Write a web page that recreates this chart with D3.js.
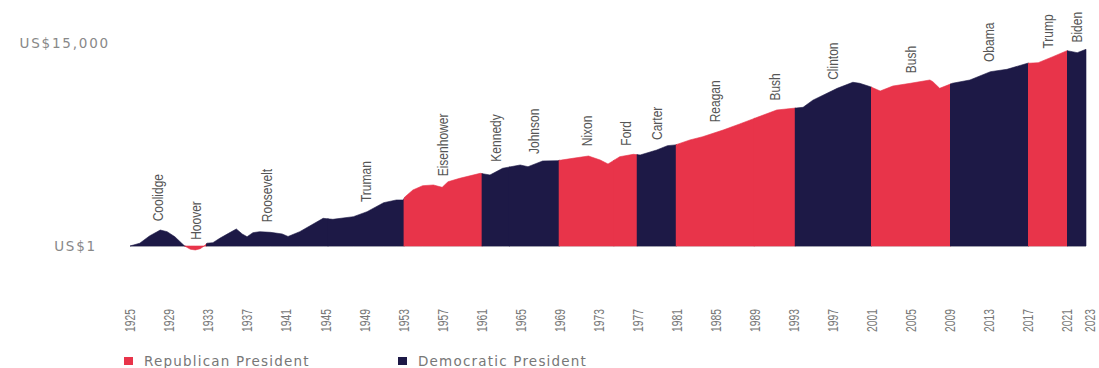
<!DOCTYPE html>
<html>
<head>
<meta charset="utf-8">
<script src="https://cdn.jsdelivr.net/npm/d3@7"></script>
<style>
  body { margin: 0; background: #fff; }
  svg { display: block; }
</style>
</head>
<body>
<svg id="chart" width="1099" height="368"></svg>
<script>
// growth of US$1 (log scale)
const years = [1925.0, 1926.0, 1927.0, 1928.1, 1928.8, 1929.6, 1930.3, 1930.6, 1931.2, 1931.7,
  1932.2, 1932.6, 1932.9, 1933.5, 1934.2, 1935.1, 1935.9, 1936.5, 1937.0, 1937.6,
  1938.3, 1939.4, 1940.6, 1941.2, 1942.4, 1944.8, 1945.8, 1947.9, 1949.3, 1951.0,
  1952.3, 1953.0, 1953.2, 1954.0, 1955.0, 1956.1, 1957.0, 1957.6, 1958.8, 1960.9,
  1961.9, 1963.2, 1965.0, 1965.8, 1967.3, 1968.8, 1970.4, 1972.0, 1973.2, 1974.0,
  1975.2, 1976.6, 1977.3, 1979.0, 1980.1, 1980.9, 1982.4, 1983.7, 1985.8, 1987.5,
  1989.3, 1991.3, 1993.0, 1994.0, 1995.0, 1997.5, 1999.1, 1999.8, 2000.9, 2001.9,
  2003.2, 2005.0, 2007.0, 2007.3, 2008.0, 2009.3, 2011.1, 2013.2, 2014.9, 2017.0,
  2018.1, 2019.6, 2021.05, 2021.6, 2022.1, 2023.0];
const values = [1.0, 1.14, 1.61, 2.13, 1.97, 1.55, 1.14, 1.0, 0.855, 0.83,
  0.88, 1.0, 1.14, 1.17, 1.44, 1.82, 2.24, 1.77, 1.55, 1.88,
  1.97, 1.91, 1.77, 1.57, 1.97, 3.71, 3.54, 4.01, 5.08, 7.78,
  8.84, 8.84, 10.3, 14.2, 17.4, 18.0, 16.1, 21.0, 24.7, 31.3,
  28.9, 39.7, 46.4, 42.8, 56.1, 56.9, 63.7, 71.0, 58.8, 48.6,
  68.7, 76.9, 74.5, 94.4, 116, 120, 152, 177, 243, 324,
  444, 628, 681, 713, 1000, 1754, 2333, 2224, 1892, 1544,
  1955, 2224, 2600, 2399, 1754, 2224, 2600, 3853, 4315, 5737,
  5902, 7840, 10420, 9940, 9480, 11130];

// shaded terms as drawn
const presidents = ["Coolidge", "Hoover", "Roosevelt", "Truman", "Eisenhower", "Kennedy", "Johnson",
  "Nixon", "Ford", "Carter", "Reagan", "Bush", "Clinton", "Bush", "Obama", "Trump", "Biden"];
const termStarts = [1925, 1930.65, 1932.85, 1945.3, 1953.1, 1961.1, 1963.9,
  1969.0, 1974.6, 1977.0, 1981.0, 1989.0, 1993.2, 2001.0, 2009.1, 2017.1, 2021.1];
const termEnd = 2023;
const parties = ["D", "R", "D", "D", "R", "D", "D", "R", "R", "D", "R", "R", "D", "R", "D", "R", "D"];

const tickYears = [1925, 1929, 1933, 1937, 1941, 1945, 1949, 1953, 1957, 1961, 1965, 1969, 1973,
  1977, 1981, 1985, 1989, 1993, 1997, 2001, 2005, 2009, 2013, 2017, 2021, 2023];
const yLabels = [{ v: 15000, text: "US$15,000" }, { v: 1, text: "US$1" }];
const legendItems = [{ p: "R", text: "Republican President" }, { p: "D", text: "Democratic President" }];

const colors = { R: "#e8344a", D: "#1d1946" };
// no narrow face installed, so squeeze Liberation Sans instead
const narrow = "'Liberation Sans', Arial, sans-serif";
const wide = "'DejaVu Sans', sans-serif";

const svg = d3.select("#chart");

const x = d3.scaleLinear().domain([1925, 2023]).range([130, 1086]);
const y = d3.scaleLog().domain([1, 15000]).range([246, 43]);

const data = years.map((yr, i) => ({ yr, v: values[i] }));

const area = d3.area()
  .x(d => x(d.yr))
  .y0(y(1))
  .y1(d => y(d.v))
  .curve(d3.curveLinear);

// value at any year, linear between read points
const bis = d3.bisector(d => d.yr).left;
function valueAt(yr) {
  const i = Math.max(1, Math.min(data.length - 1, bis(data, yr)));
  const a = data[i - 1], b = data[i];
  const t = (yr - a.yr) / (b.yr - a.yr);
  return a.v + (b.v - a.v) * t;
}

const terms = presidents.map((name, i) => ({
  name,
  start: termStarts[i],
  end: i < termStarts.length - 1 ? termStarts[i + 1] : termEnd,
  party: parties[i]
}));

// one clip per term; a little overlap so no seam shows between them
const defs = svg.append("defs");
terms.forEach((t, i) => {
  const first = i === 0, last = i === terms.length - 1;
  defs.append("clipPath").attr("id", "clip" + i)
    .append("rect")
    .attr("x", x(t.start) - (first ? 2 : 0.5))
    .attr("width", x(t.end) - x(t.start) + (first ? 2 : 0.5) + (last ? 2 : 0.5))
    .attr("y", 0)
    .attr("height", 368);
});

// baseline
svg.append("line")
  .attr("x1", x(1925)).attr("x2", x(2023))
  .attr("y1", y(1) + 0.5).attr("y2", y(1) + 0.5)
  .attr("stroke", "#d8d8d8").attr("stroke-width", 1);

svg.append("g")
  .selectAll("path")
  .data(terms)
  .join("path")
  .attr("clip-path", (d, i) => "url(#clip" + i + ")")
  .attr("d", area(data))
  .attr("fill", d => colors[d.party])
  .attr("stroke", d => colors[d.party])
  .attr("stroke-width", 0.6);

// president names, above the line at mid-term
svg.append("g")
  .selectAll("text")
  .data(terms)
  .join("text")
  .attr("transform", d => {
    const m = (d.start + d.end) / 2;
    return `translate(${x(m) + 5},${y(valueAt(m)) - 10}) rotate(-90) scale(0.8,1)`;
  })
  .attr("text-anchor", "start")
  .attr("font-family", narrow)
  .attr("font-size", 15)
  .attr("fill", "#555")
  .text(d => d.name);

// y labels
svg.append("g")
  .selectAll("text")
  .data(yLabels)
  .join("text")
  .attr("x", d => d.v === 1 ? 97 : 110)
  .attr("y", d => y(d.v))
  .attr("dy", "0.36em")
  .attr("text-anchor", "end")
  .attr("font-family", wide)
  .attr("font-size", 13.5)
  .attr("letter-spacing", 1.8)
  .attr("fill", "#888")
  .text(d => d.text);

// year ticks
const xAxis = d3.axisBottom(x)
  .tickValues(tickYears)
  .tickFormat(d3.format("d"))
  .tickSize(0);

const gx = svg.append("g")
  .attr("transform", "translate(0,309)")
  .call(xAxis);
gx.select(".domain").remove();
gx.selectAll("text")
  .attr("transform", "rotate(-90) scale(0.74,1)")
  .attr("x", 0)
  .attr("y", 0)
  .attr("dy", "0.35em")
  .attr("dx", 0)
  .attr("text-anchor", "end")
  .attr("font-family", narrow)
  .attr("font-size", 14)
  .attr("fill", "#777");
gx.selectAll(".tick")
  .filter(d => d === 2023)
  .attr("transform", `translate(${x(2023) + 4},0)`);

// legend
const leg = svg.append("g")
  .selectAll("g")
  .data(legendItems)
  .join("g")
  .attr("transform", (d, i) => `translate(${124 + i * 274},357)`);
leg.append("rect")
  .attr("width", 9).attr("height", 8)
  .attr("fill", d => colors[d.p]);
leg.append("text")
  .attr("x", 20)
  .attr("y", 4)
  .attr("dy", "0.36em")
  .attr("font-family", wide)
  .attr("font-size", 13.5)
  .attr("letter-spacing", 1.2)
  .attr("fill", "#777")
  .text(d => d.text);
</script>
</body>
</html>
